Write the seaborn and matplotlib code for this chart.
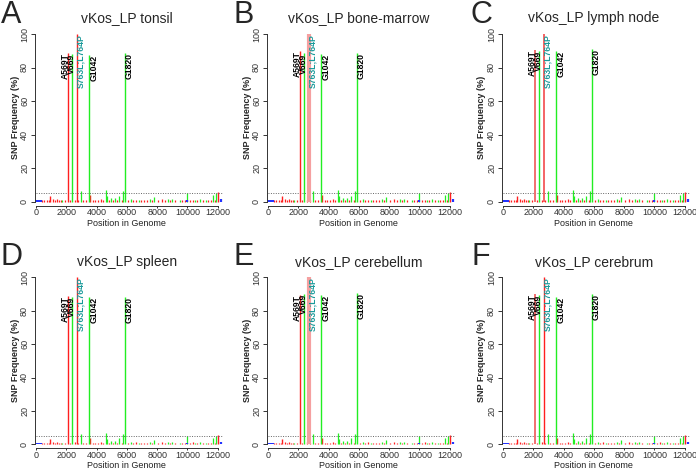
import numpy as np
import pandas as pd
import matplotlib
matplotlib.use("Agg")
import matplotlib.pyplot as plt
import seaborn as sns

# Panels
panel_letters = ["A", "B", "C", "D", "E", "F"]
tissues = ["tonsil", "bone-marrow", "lymph node", "spleen", "cerebellum", "cerebrum"]

# Labelled variants: genome position, kind (red = non-synonymous, green = synonymous)
variant_labels = ["A569T", "V669", "S763L;L764P", "G1042", "G1820"]
variant_pos = [2100, 2400, 2690, 3520, 5853]
variant_kind = ["red", "green", "red", "green", "green"]
variant_freq = [
    [88.5, 88.0, 100.0, 87.5, 88.5],   # tonsil
    [90.0, 88.5, 100.0, 88.0, 88.5],   # bone-marrow
    [90.5, 90.0, 100.0, 90.0, 91.0],   # lymph node
    [88.8, 88.4, 100.0, 88.4, 88.4],   # spleen
    [89.4, 90.0, 100.0, 89.4, 90.4],   # cerebellum
    [90.0, 89.4, 100.0, 88.4, 90.0],   # cerebrum
]

# Minor variants (below the 5% cut-off)
minor_green_pos = [1750, 2950, 4620, 4700, 4950, 5200, 5500, 5750, 6250, 6800,
                   7500, 7800, 8700, 9000, 9500, 10000, 10500, 10800, 11200, 11700, 11900]
minor_green_freq = [1.0, 6.0, 7.0, 3.0, 2.0, 2.0, 3.5, 6.0, 1.2, 1.0,
                    1.5, 2.5, 1.5, 1.5, 1.0, 5.0, 1.0, 1.5, 1.0, 4.0, 5.0]
minor_red_pos = [950, 3580, 12000]
minor_red_freq = [3.0, 4.0, 5.5]
tiny_red_pos = [400, 550, 700, 850, 1100, 1250, 1400, 1550, 1650, 1900, 2250, 2550,
                2800, 3100, 3300, 3750, 3900, 4100, 4300, 4450, 4850, 5100, 5350, 5650,
                6050, 6400, 6600, 6950, 7150, 7350, 7650, 8050, 8300, 8500, 8850, 9200,
                9650, 9850, 10150, 10350, 10650, 11050, 11350, 11550, 11850]
tiny_red_freq = [0.8, 1.0, 0.6, 0.9, 1.2, 0.7, 1.5, 0.8, 1.0, 0.6, 0.9, 1.1,
                 0.7, 0.8, 1.0, 0.6, 0.9, 0.7, 1.2, 0.8, 0.6, 1.0, 0.7, 0.9,
                 0.8, 0.6, 1.1, 0.7, 1.0, 0.8, 0.6, 0.9, 1.2, 0.7, 0.8, 1.0,
                 0.6, 0.9, 0.7, 1.1, 0.8, 0.6, 0.9, 1.0, 0.7]
blue_pos = [60, 150, 250, 350, 9950, 12200]
blue_freq = [0.8, 0.8, 0.8, 0.8, 0.6, 1.5]
cutoff = 5

RED, GREEN, BLUE, PINK, SALMON = "#ff1f1f", "#22ee22", "#2233ff", "#f5a0a0", "#f27070"
# style of the two red labelled spikes per panel (A569T, S763L;L764P)
red_styles = [
    [(RED, 1.0), (RED, 1.0)],
    [(RED, 1.0), (PINK, 3.0)],
    [(SALMON, 1.4), ("#f24a4a", 1.2)],
    [(RED, 1.0), (RED, 1.0)],
    [(RED, 1.0), (PINK, 3.0)],
    [(SALMON, 1.4), (RED, 1.0)],
]
label_dx = [-185, -90, 260, 330, 310]

sns.set_style("ticks")
plt.rcParams['font.family'] = ['Liberation Sans', 'DejaVu Sans']

W, H = 696, 471
fig = plt.figure(figsize=(W / 100, H / 100), dpi=100)

col_x0 = [36, 268, 503]
row_y0 = [201.5, 444.3]
row_y100 = [34.0, 277.3]
title_y = [18.3, 261.7]
letter_x = [11, 244, 481]
letter_y = [15, 257]
kx = 181.7 / 12000
xlim = (-70, 12600)
ylim = (-2.4, 104)


def fx(px):
    return px / W


def fy(py):
    return 1 - py / H


for i, tissue in enumerate(tissues):
    r, c = divmod(i, 3)
    x0, y0 = col_x0[c], row_y0[r]
    ky = (y0 - row_y100[r]) / 100
    left, right = x0 + xlim[0] * kx, x0 + xlim[1] * kx
    bottom, top = y0 - ylim[0] * ky, y0 - ylim[1] * ky
    ax = fig.add_axes([fx(left), fy(bottom), (right - left) / W, (bottom - top) / H])

    ax.vlines(tiny_red_pos, 0, tiny_red_freq, colors=RED, lw=0.9)
    ax.vlines(minor_green_pos, 0, minor_green_freq, colors=GREEN, lw=0.9)
    ax.vlines(minor_red_pos, 0, minor_red_freq, colors=RED, lw=1.0)
    ax.vlines(blue_pos, 0, blue_freq, colors=BLUE, lw=1.6)
    ax.hlines(cutoff, 0, 12330, colors="#666666", linestyles=(0, (1, 1.5)), lw=0.7)

    k_red = 0
    for j, (lab, pos, kind) in enumerate(zip(variant_labels, variant_pos, variant_kind)):
        f = variant_freq[i][j]
        if kind == "red":
            col, lw = red_styles[i][k_red]
            k_red += 1
        else:
            col, lw = GREEN, 1.0
        ax.vlines(pos, 0, f, colors=col, lw=lw)
        tcol = "#1a9a9a" if lab.startswith("S763") else "black"
        ax.text(pos + label_dx[j], f, lab, rotation=90, ha="center", va="top",
                fontsize=6.2, fontweight="bold", color=tcol)

    ax.set_xlim(*xlim)
    ax.set_ylim(*ylim)
    ax.set_xticks(range(0, 12001, 2000))
    ax.set_yticks(range(0, 101, 20))
    sns.despine(ax=ax)
    ax.spines['left'].set_bounds(0, 100)
    ax.spines['bottom'].set_bounds(0, 12000)
    for s in ['left', 'bottom']:
        ax.spines[s].set_color("#333333")
        ax.spines[s].set_linewidth(0.7)
    ax.tick_params(axis='x', length=1.5, pad=0.3, labelsize=6.5, colors="#333333", width=0.7)
    ax.tick_params(axis='y', length=3, pad=1.2, labelsize=6.5, colors="#333333",
                   width=0.7, labelrotation=90)
    for lbl in ax.get_yticklabels():
        lbl.set_va("center")

    fig.text(fx(x0 + 6000 * kx), fy(title_y[r]), f"vKos_LP {tissue}",
             ha="center", va="center", fontsize=10)
    fig.text(fx(letter_x[c]), fy(letter_y[r]), panel_letters[i],
             ha="center", va="center", fontsize=22)
    fig.text(fx(x0 - 21), fy((y0 + row_y100[r]) / 2), "SNP Frequency (%)", rotation=90,
             ha="center", va="center", fontsize=6.5, fontweight="bold")
    fig.text(fx(x0 + 6000 * kx), fy(y0 + 21.5), "Position in Genome",
             ha="center", va="center", fontsize=6.5, color="#222222")

fig.savefig("out.png", dpi=100)
